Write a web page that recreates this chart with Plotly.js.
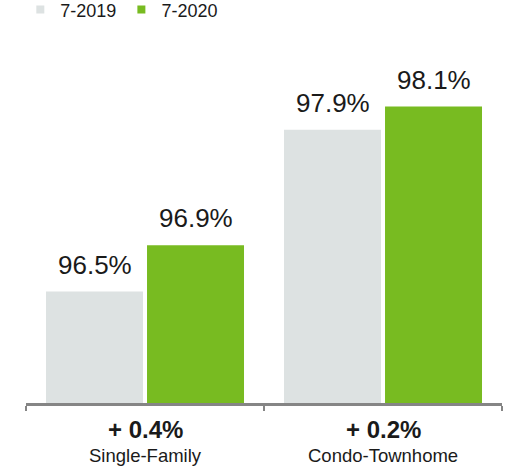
<!DOCTYPE html>
<html>
<head>
<meta charset="utf-8">
<script src="https://cdn.plot.ly/plotly-3.0.1.min.js"></script>
<style>html,body{margin:0;padding:0;background:#fff}#chart{width:508px;height:469px}</style>
</head>
<body>
<div id="chart"></div>
<script>
var categories = ["Single-Family", "Condo-Townhome"];
var seriesNames = ["7-2019", "7-2020"];
var values2019 = [96.5, 97.9];
var values2020 = [96.9, 98.1];
var changes = ["+ 0.4%", "+ 0.2%"];

var colors = ["#dde2e2", "#78bb21"];
var FONT = "Liberation Sans, Arial, Helvetica, sans-serif";
var allSeries = [values2019, values2020];
var PITCH = 101;

var traces = allSeries.map(function (vals, i) {
  return {
    type: "bar",
    name: seriesNames[i],
    x: categories,
    y: vals,
    marker: {color: colors[i]},
    showlegend: false,
    hoverinfo: "skip"
  };
});
// legend-only entries with small square swatches
seriesNames.forEach(function (n, i) {
  traces.push({
    type: "scatter", mode: "markers", name: n,
    x: [null], y: [null],
    marker: {symbol: "square", size: 8, color: colors[i]},
    showlegend: true, hoverinfo: "skip"
  });
});

var annotations = [];
allSeries.forEach(function (vals, i) {
  vals.forEach(function (v, j) {
    annotations.push({
      xref: "x", yref: "y",
      x: categories[j], y: v,
      text: v.toFixed(1) + "%",
      showarrow: false,
      xanchor: "center", yanchor: "bottom",
      xshift: (i - 0.5) * PITCH,
      yshift: 10,
      font: {family: FONT, size: 26, color: "#1a1a1a"}
    });
  });
});
categories.forEach(function (c, j) {
  annotations.push({
    xref: "x", yref: "paper", x: c, y: 0,
    text: "<b>" + changes[j] + "</b>",
    showarrow: false, xanchor: "center", yanchor: "middle",
    yshift: -26,
    font: {family: FONT, size: 24, color: "#1a1a1a"}
  });
  annotations.push({
    xref: "x", yref: "paper", x: c, y: 0,
    text: c,
    showarrow: false, xanchor: "center", yanchor: "middle",
    yshift: -52,
    font: {family: FONT, size: 18.5, color: "#1a1a1a"}
  });
});

var layout = {
  width: 508, height: 469,
  margin: {l: 26, r: 6, t: 60, b: 66, pad: 0, autoexpand: false},
  paper_bgcolor: "#ffffff", plot_bgcolor: "#ffffff",
  font: {family: FONT, color: "#1a1a1a"},
  barmode: "group",
  bargap: 0.151,
  bargroupgap: 0.04,
  showlegend: true,
  legend: {
    orientation: "h",
    x: 0.04, xref: "container", xanchor: "left",
    y: 1.2, yref: "paper", yanchor: "top",
    font: {family: FONT, size: 18, color: "#1a1a1a"},
    bgcolor: "rgba(0,0,0,0)",
    itemclick: false
  },
  xaxis: {
    type: "category",
    showline: true, linecolor: "#858585", linewidth: 2.5,
    ticks: "outside", tickson: "boundaries", ticklen: 5, tickwidth: 2, tickcolor: "#858585",
    showticklabels: false,
    showgrid: false, zeroline: false, fixedrange: true
  },
  yaxis: {
    range: [95.537, 98.502],
    visible: false, showgrid: false, zeroline: false, fixedrange: true
  },
  annotations: annotations
};

Plotly.newPlot("chart", traces, layout, {displayModeBar: false, staticPlot: true});
</script>
</body>
</html>
